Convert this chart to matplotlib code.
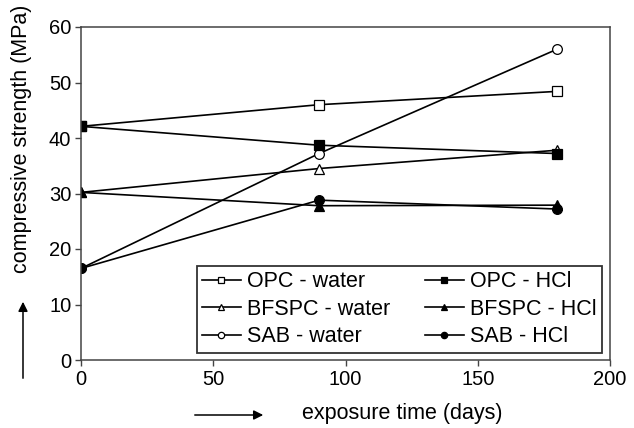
import numpy as np
import matplotlib
matplotlib.use('Agg')
import matplotlib.pyplot as plt

plt.rcParams['font.family'] = ['Liberation Sans', 'DejaVu Sans']

# exposure time (days)
days = [0, 90, 180]

# compressive strength (MPa)
opc_water = [42.1, 46.0, 48.4]
opc_hcl = [42.1, 38.7, 37.2]
bfspc_water = [30.2, 34.5, 37.8]
bfspc_hcl = [30.2, 27.8, 27.9]
sab_water = [16.5, 37.2, 56.0]
sab_hcl = [16.5, 28.8, 27.2]

labels = ['OPC - water', 'BFSPC - water', 'SAB - water',
          'OPC - HCl', 'BFSPC - HCl', 'SAB - HCl']

fig = plt.figure(figsize=(6.34, 4.28), dpi=100)
ax = fig.add_axes([81/634, 1 - 360/428, (610-81)/634, (360-27)/428])

series = [opc_water, bfspc_water, sab_water, opc_hcl, bfspc_hcl, sab_hcl]
markers = ['s', '^', 'o', 's', '^', 'o']
fills = ['white', 'white', 'white', 'black', 'black', 'black']

for vals, m, fc, lab in zip(series, markers, fills, labels):
    ax.plot(days, vals, color='black', lw=1.2, marker=m, ms=7,
            mfc=fc, mec='black', mew=0.9, label=lab)

ax.set_xlim(0, 200)
ax.set_ylim(0, 60)
ax.set_xticks([0, 50, 100, 150, 200])
ax.set_yticks(range(0, 61, 10))
ax.tick_params(direction='out', length=4.5, width=1, labelsize=14.5, color='#444444', pad=2.5)
for s in ax.spines.values():
    s.set_color('#444444')
    s.set_linewidth(1.1)

leg = ax.legend(ncol=2, loc='lower right', bbox_to_anchor=(0.985, 0.022),
                frameon=True, fancybox=False, fontsize=15.5, handlelength=1.8,
                markerscale=0.65, columnspacing=1.6, handletextpad=0.3,
                labelspacing=0.3, borderpad=0.25, borderaxespad=0)
leg.get_frame().set_edgecolor('black')
leg.get_frame().set_linewidth(1.3)

fig.text(22/634, 1 - 139/428, 'compressive strength (MPa)', rotation=90,
         ha='center', va='center', fontsize=15.5)
fig.text(402/634, 1 - 413/428, 'exposure time (days)', ha='center', va='center',
         fontsize=15.5)

# direction arrows
fig.add_artist(matplotlib.patches.FancyArrowPatch((23/634, 1 - 381/428), (23/634, 1 - 299/428),
               transform=fig.transFigure, arrowstyle='-|>', mutation_scale=14,
               color='black', lw=1.1))
fig.add_artist(matplotlib.patches.FancyArrowPatch((192/634, 1 - 415/428), (266/634, 1 - 415/428),
               transform=fig.transFigure, arrowstyle='-|>', mutation_scale=14,
               color='black', lw=1.1))

fig.savefig('out.png', dpi=100)
